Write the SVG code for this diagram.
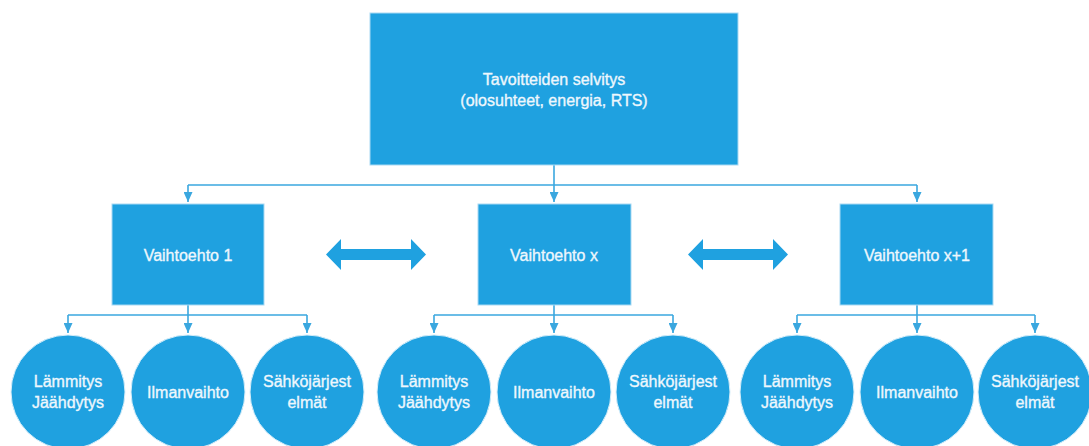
<svg xmlns="http://www.w3.org/2000/svg" width="1089" height="446" viewBox="0 0 1089 446">
  <style>
    .box { fill: #1fa1e0; stroke: #a9d9f3; stroke-width: 1; }
    .ball { fill: #1fa1e0; stroke: #d6eefa; stroke-width: 1; }
    .lbl { font-family: "Liberation Sans", Arial, sans-serif; font-size: 16px; fill: #eef7fd; stroke: #eef7fd; stroke-width: 0.35; text-anchor: middle; }
    .wire { fill: none; stroke: #3aa7df; stroke-width: 1.6; }
    .dbl { fill: #1fa1e0; }
  </style>
  <defs>
    <marker id="tip" markerWidth="11" markerHeight="9" refX="10" refY="4.5" orient="auto" markerUnits="userSpaceOnUse">
      <path d="M0,0 L10,4.5 L0,9 Z" fill="#3aa7df"/>
    </marker>
  </defs>

  <rect width="1089" height="446" fill="#ffffff"/>

  <!-- connectors -->
  <g id="connectors">
    <!-- top level fan-out -->
    <path class="wire" d="M554,165 V202" marker-end="url(#tip)"/>
    <path class="wire" d="M188,185 H917"/>
    <path class="wire" d="M188,185 V202" marker-end="url(#tip)"/>
    <path class="wire" d="M917,185 V202" marker-end="url(#tip)"/>
    <!-- alternative 1 -->
    <path class="wire" d="M68,315 H307"/>
    <path class="wire" d="M188,305 V333" marker-end="url(#tip)"/>
    <path class="wire" d="M68,315 V333" marker-end="url(#tip)"/>
    <path class="wire" d="M307,315 V333" marker-end="url(#tip)"/>
    <!-- alternative x -->
    <path class="wire" d="M434,315 H673"/>
    <path class="wire" d="M554,305 V333" marker-end="url(#tip)"/>
    <path class="wire" d="M434,315 V333" marker-end="url(#tip)"/>
    <path class="wire" d="M673,315 V333" marker-end="url(#tip)"/>
    <!-- alternative x+1 -->
    <path class="wire" d="M797,315 H1035"/>
    <path class="wire" d="M917,305 V333" marker-end="url(#tip)"/>
    <path class="wire" d="M797,315 V333" marker-end="url(#tip)"/>
    <path class="wire" d="M1035,315 V333" marker-end="url(#tip)"/>
    <!-- comparison arrows between alternatives -->
    <path class="dbl" d="M326,254.5 L341,239 L341,249 L411,249 L411,239 L426,254.5 L411,270 L411,260 L341,260 L341,270 Z"/>
    <path class="dbl" d="M688,254.5 L703,239 L703,249 L773,249 L773,239 L788,254.5 L773,270 L773,260 L703,260 L703,270 Z"/>
  </g>

  <g id="goal">
    <rect class="box" x="370" y="13" width="368" height="152"/>
    <text class="lbl" x="554" y="85">Tavoitteiden selvitys</text>
    <text class="lbl" x="554" y="106">(olosuhteet, energia, RTS)</text>
  </g>

  <g id="alt1">
    <rect class="box" x="112" y="204" width="152" height="101"/>
    <text class="lbl" x="188" y="261">Vaihtoehto 1</text>
  </g>
  <g id="altx">
    <rect class="box" x="478" y="204" width="153" height="101"/>
    <text class="lbl" x="554" y="261">Vaihtoehto x</text>
  </g>
  <g id="altx1">
    <rect class="box" x="840" y="204" width="153" height="101"/>
    <text class="lbl" x="917" y="261">Vaihtoehto x+1</text>
  </g>

  <!-- alternative 1 subsystems -->
  <g id="alt1-heat">
    <circle class="ball" cx="68" cy="392" r="57"/>
    <text class="lbl" x="68" y="387">Lämmitys</text>
    <text class="lbl" x="68" y="408">Jäähdytys</text>
  </g>
  <g id="alt1-vent">
    <circle class="ball" cx="188" cy="392" r="57"/>
    <text class="lbl" x="188" y="398">Ilmanvaihto</text>
  </g>
  <g id="alt1-elec">
    <circle class="ball" cx="307" cy="392" r="57"/>
    <text class="lbl" x="307" y="387">Sähköjärjest</text>
    <text class="lbl" x="307" y="408">elmät</text>
  </g>

  <!-- alternative x subsystems -->
  <g id="altx-heat">
    <circle class="ball" cx="434" cy="392" r="57"/>
    <text class="lbl" x="434" y="387">Lämmitys</text>
    <text class="lbl" x="434" y="408">Jäähdytys</text>
  </g>
  <g id="altx-vent">
    <circle class="ball" cx="554" cy="392" r="57"/>
    <text class="lbl" x="554" y="398">Ilmanvaihto</text>
  </g>
  <g id="altx-elec">
    <circle class="ball" cx="673" cy="392" r="57"/>
    <text class="lbl" x="673" y="387">Sähköjärjest</text>
    <text class="lbl" x="673" y="408">elmät</text>
  </g>

  <!-- alternative x+1 subsystems -->
  <g id="altx1-heat">
    <circle class="ball" cx="797" cy="392" r="57"/>
    <text class="lbl" x="797" y="387">Lämmitys</text>
    <text class="lbl" x="797" y="408">Jäähdytys</text>
  </g>
  <g id="altx1-vent">
    <circle class="ball" cx="917" cy="392" r="57"/>
    <text class="lbl" x="917" y="398">Ilmanvaihto</text>
  </g>
  <g id="altx1-elec">
    <circle class="ball" cx="1035" cy="392" r="57"/>
    <text class="lbl" x="1035" y="387">Sähköjärjest</text>
    <text class="lbl" x="1035" y="408">elmät</text>
  </g>
</svg>
